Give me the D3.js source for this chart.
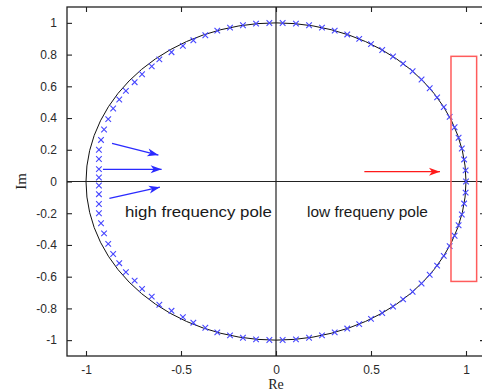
<!DOCTYPE html>
<html><head><meta charset="utf-8">
<script src="https://cdn.jsdelivr.net/npm/d3@7"></script>
<style>html,body{margin:0;padding:0;background:#fff;}svg{display:block;}</style>
</head><body>
<svg id="chart" width="482" height="392"></svg>
<script>
// ---- data ----
const xTicks = [-1, -0.5, 0, 0.5, 1];
const yTicks = [-1, -0.8, -0.6, -0.4, -0.2, 0, 0.2, 0.4, 0.6, 0.8, 1];
const xTickLabels = ["-1", "-0.5", "0", "0.5", "1"];
const yTickLabels = ["-1", "-0.8", "-0.6", "-0.4", "-0.2", "0", "0.2", "0.4", "0.6", "0.8", "1"];

// pole locations (real part, imaginary part)
const poleRe = [
  1.000, 0.998, 0.990, 0.978, 0.961, 0.940, 0.914, 0.883, 0.848, 0.809, 0.766, 0.719, 0.669, 0.616, 0.559, 0.500,
  0.438, 0.375, 0.309, 0.242, 0.174, 0.105, 0.035, -0.035, -0.105, -0.174, -0.242, -0.309, -0.372, -0.435, -0.490, -0.550,
  -0.614, -0.654, -0.705, -0.744, -0.790, -0.825, -0.857, -0.883, -0.905, -0.921, -0.932, -0.932, -0.932, -0.932,
  -0.932, -0.932, -0.932, -0.932, -0.921, -0.905, -0.883, -0.857, -0.825, -0.790, -0.744, -0.705, -0.654, -0.614,
  -0.550, -0.490, -0.435, -0.372, -0.309, -0.242, -0.174, -0.105, -0.035, 0.035, 0.105, 0.174, 0.242, 0.309, 0.375,
  0.438, 0.500, 0.559, 0.616, 0.669, 0.719, 0.766, 0.809, 0.848, 0.883, 0.914, 0.940, 0.961, 0.978, 0.990, 0.998
];
const poleIm = [
  0.000, 0.070, 0.139, 0.208, 0.276, 0.342, 0.407, 0.469, 0.530, 0.588, 0.643, 0.695, 0.743, 0.788, 0.829, 0.866,
  0.899, 0.927, 0.951, 0.970, 0.985, 0.995, 0.999, 0.999, 0.995, 0.985, 0.970, 0.951, 0.922, 0.890, 0.855, 0.815,
  0.770, 0.726, 0.676, 0.626, 0.571, 0.517, 0.460, 0.393, 0.328, 0.262, 0.200, 0.142, 0.078, 0.025,
  -0.025, -0.080, -0.142, -0.200, -0.263, -0.327, -0.393, -0.457, -0.515, -0.571, -0.625, -0.677, -0.726, -0.777,
  -0.815, -0.855, -0.890, -0.922, -0.951, -0.970, -0.985, -0.995, -0.999, -0.999, -0.995, -0.985, -0.970, -0.951, -0.927,
  -0.899, -0.866, -0.829, -0.788, -0.743, -0.695, -0.643, -0.588, -0.530, -0.469, -0.407, -0.342, -0.276, -0.208, -0.139, -0.070
];

// annotation arrows: [startRe, startIm, endRe, endIm]
const blueArrows = [
  [-0.863, 0.240, -0.619, 0.167],
  [-0.911, 0.077, -0.602, 0.077],
  [-0.877, -0.106, -0.611, -0.036]
];
const redArrow = [0.465, 0.062, 0.863, 0.062];
// highlighted region: [reMin, reMax, imMin, imMax]
const lowRegion = [0.921, 1.056, -0.630, 0.789];
const labels = [
  {text: "high frequency pole", re: -0.795, im: -0.223, len: 147},
  {text: "low frequeny pole", re: 0.163, im: -0.223, len: 121}
];

// ---- drawing ----
const svg = d3.select("#chart");
const x = d3.scaleLinear().domain([-1.1, 1.1]).range([67, 485]);
const y = d3.scaleLinear().domain([-1.1, 1.1]).range([356, 7]);
const L = x.range()[0], R = x.range()[1], T = y.range()[1], B = y.range()[0];

// defs for arrowheads
const defs = svg.append("defs");
function head(id, color, s) {
  defs.append("marker").attr("id", id)
    .attr("viewBox", "-12 -6 14 12").attr("refX", 0).attr("refY", 0)
    .attr("markerWidth", 14 * s).attr("markerHeight", 12 * s)
    .attr("markerUnits", "userSpaceOnUse").attr("orient", "auto")
    .append("path").attr("d", "M0,0 L-11,-4 L-8,0 L-11,4 Z").attr("fill", color);
}
head("hb", "#2a2aff", 1);
head("hr", "#ff1a1a", 1);

// unit circle
svg.append("ellipse")
  .attr("cx", x(0)).attr("cy", y(0))
  .attr("rx", x(1) - x(0)).attr("ry", y(0) - y(1))
  .attr("fill", "none").attr("stroke", "#111").attr("stroke-width", 1);

// crosshair axes
svg.append("line").attr("x1", x(0)).attr("x2", x(0)).attr("y1", T).attr("y2", B)
  .attr("stroke", "#222").attr("stroke-width", 1.2);
svg.append("line").attr("x1", L).attr("x2", R).attr("y1", y(0)).attr("y2", y(0))
  .attr("stroke", "#222").attr("stroke-width", 1.2);

// poles as x markers
const poles = poleRe.map((r, i) => ({re: r, im: poleIm[i]}));
const s = 2.8;
svg.append("g").selectAll("path").data(poles).join("path")
  .attr("d", d => {
    const cx = x(d.re), cy = y(d.im);
    return `M${cx - s},${cy - s}L${cx + s},${cy + s}M${cx - s},${cy + s}L${cx + s},${cy - s}`;
  })
  .attr("stroke", "#4646ff").attr("stroke-width", 1.1).attr("fill", "none");

// blue arrows
svg.append("g").selectAll("line").data(blueArrows).join("line")
  .attr("x1", d => x(d[0])).attr("y1", d => y(d[1]))
  .attr("x2", d => x(d[2])).attr("y2", d => y(d[3]))
  .attr("stroke", "#2a2aff").attr("stroke-width", 1.3)
  .attr("marker-end", "url(#hb)");

// red arrow
svg.append("line")
  .attr("x1", x(redArrow[0])).attr("y1", y(redArrow[1]))
  .attr("x2", x(redArrow[2])).attr("y2", y(redArrow[3]))
  .attr("stroke", "#ff1a1a").attr("stroke-width", 1.3)
  .attr("marker-end", "url(#hr)");

// red rectangle
svg.append("rect")
  .attr("x", x(lowRegion[0])).attr("y", y(lowRegion[3]))
  .attr("width", x(lowRegion[1]) - x(lowRegion[0]))
  .attr("height", y(lowRegion[2]) - y(lowRegion[3]))
  .attr("fill", "none").attr("stroke", "#ff5c5c").attr("stroke-width", 1.5);

// text labels
svg.append("g").selectAll("text").data(labels).join("text")
  .attr("x", d => x(d.re)).attr("y", d => y(d.im))
  .attr("textLength", d => d.len).attr("lengthAdjust", "spacingAndGlyphs")
  .attr("font-family", "Liberation Sans, Arial, sans-serif").attr("font-size", 14)
  .attr("fill", "#1a1a1a")
  .text(d => d.text);

// frame
svg.append("rect").attr("x", L).attr("y", T).attr("width", R - L).attr("height", B - T)
  .attr("fill", "none").attr("stroke", "#222").attr("stroke-width", 1.3);

// axes with inward ticks
const fontTick = "Liberation Sans, Arial, sans-serif";
const axB = d3.axisBottom(x).tickValues(xTicks).tickSize(-5).tickPadding(9)
  .tickFormat((d, i) => xTickLabels[i]);
const axT = d3.axisTop(x).tickValues(xTicks).tickSize(-5).tickFormat("");
const axL = d3.axisLeft(y).tickValues(yTicks).tickSize(-5).tickPadding(10)
  .tickFormat((d, i) => yTickLabels[i]);
const axR = d3.axisRight(y).tickValues(yTicks).tickSize(-5).tickFormat("");

function style(g) {
  g.select(".domain").remove();
  g.selectAll(".tick line").attr("stroke", "#222").attr("stroke-width", 1.1);
  g.selectAll("text").attr("font-family", fontTick).attr("font-size", 12).attr("fill", "#2a2a2a");
}
svg.append("g").attr("transform", `translate(0,${B})`).call(axB).call(style);
svg.append("g").attr("transform", `translate(0,${T})`).call(axT).call(style);
svg.append("g").attr("transform", `translate(${L},0)`).call(axL).call(style);
svg.append("g").attr("transform", `translate(${R},0)`).call(axR).call(style);

// axis titles
svg.append("text").attr("x", x(0)).attr("y", 389).attr("text-anchor", "middle")
  .attr("font-family", "Liberation Serif, Times New Roman, serif").attr("font-size", 14)
  .attr("fill", "#222").text("Re");
svg.append("text").attr("transform", `translate(26,${y(0)}) rotate(-90)`).attr("text-anchor", "middle")
  .attr("font-family", "Liberation Serif, Times New Roman, serif").attr("font-size", 15)
  .attr("fill", "#222").text("Im");
</script>
</body></html>
